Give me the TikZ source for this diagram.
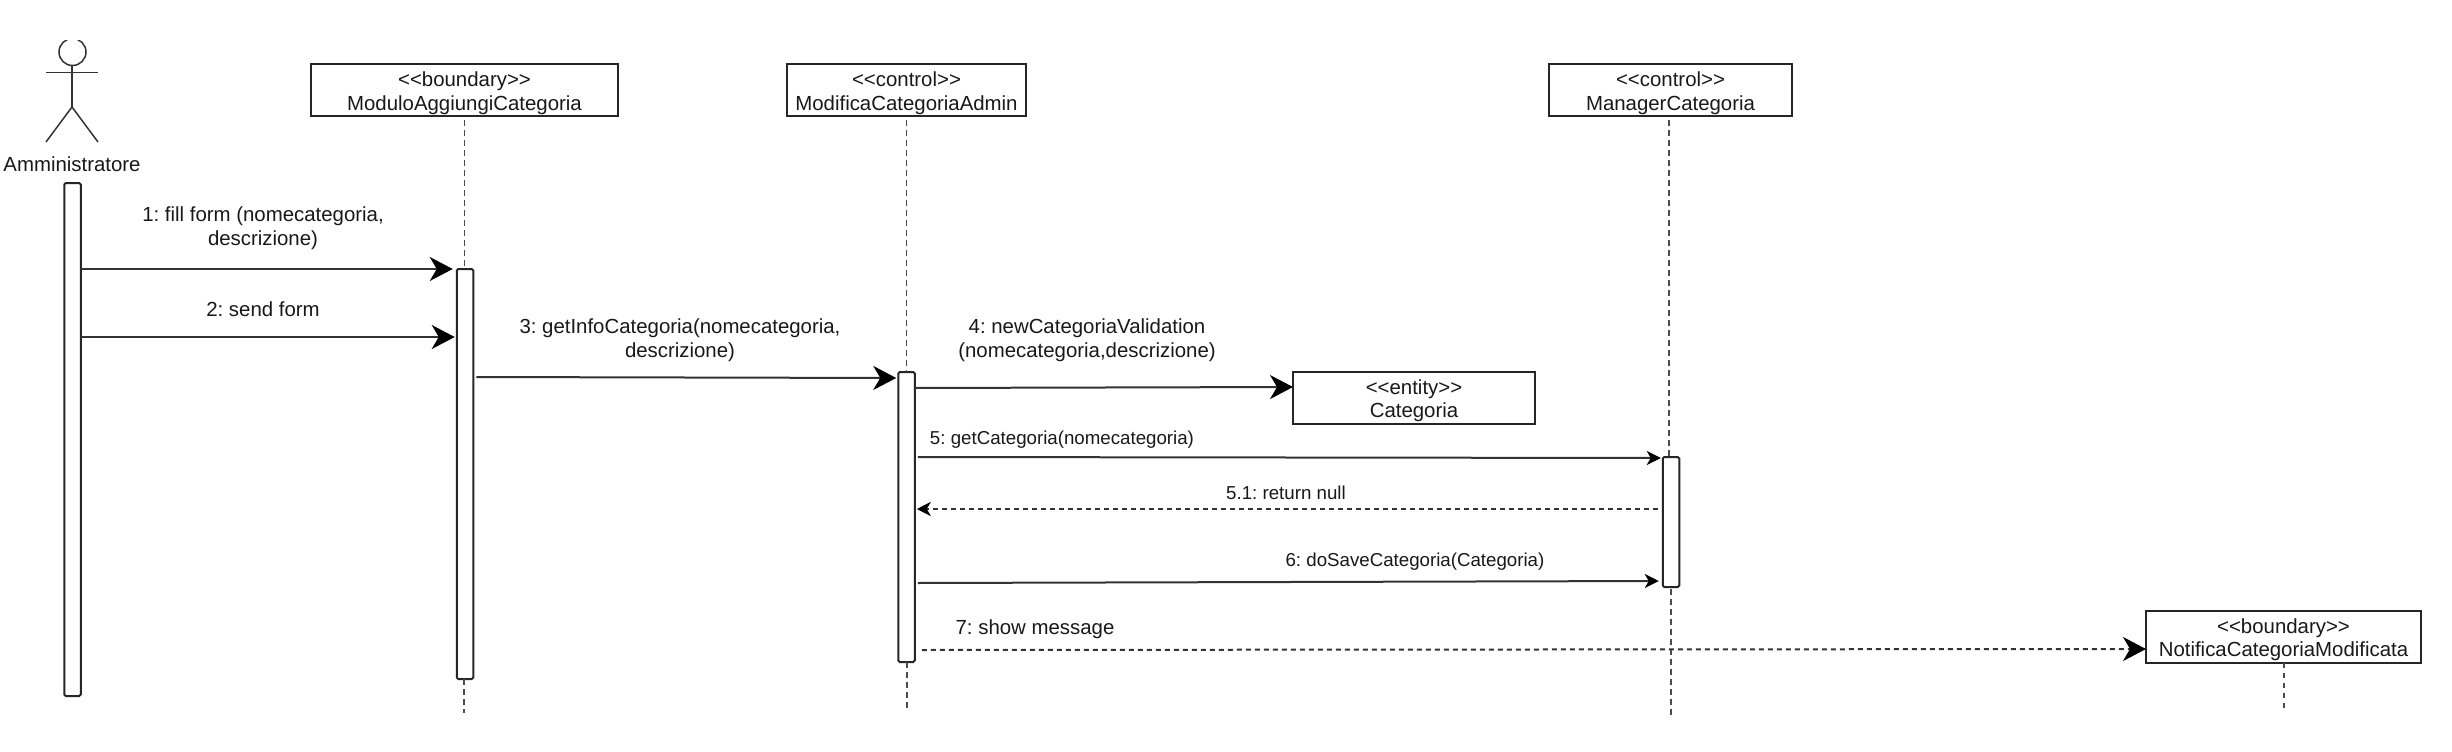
\documentclass[tikz,border=0pt]{standalone}
\usepackage{fontspec}
\setmainfont{Liberation Sans}
\usetikzlibrary{arrows.meta}
\AtBeginDocument{\frenchspacing}
\newcommand{\tallstrut}{\rule{0pt}{21pt}}
\tikzset{
  x=1pt,y=-1pt,
  every node/.style={inner sep=0pt,outer sep=0pt,text=black!90,font=\fontsize{20.4}{23.5}\selectfont,align=center},
  objbox/.style={draw=black!85,line width=2pt,fill=white,minimum height=52pt},
  actbox/.style={draw=black!85,line width=2pt,fill=white,minimum width=16.5pt,rounded corners=1.5pt},
  lifeline/.style={draw=black!70,line width=1.6pt,dash pattern=on 5.5pt off 4.5pt},
  bigtip/.style={-{Stealth[length=23pt,width=24pt,inset=7pt,color=black]}},
  smalltip/.style={-{Stealth[length=14pt,width=14pt,inset=4pt,color=black]}},
  msg/.style={draw=black!80,line width=2pt},
  retmsg/.style={draw=black!80,line width=2pt,dash pattern=on 5pt off 4pt},
  actorline/.style={draw=black!80,line width=1.5pt},
  smalllabel/.style={font=\fontsize{18.7}{22}\selectfont},
}
\begin{document}
\begin{tikzpicture}
\useasboundingbox (0,0) rectangle (2452,752);
\fill[white] (0,0) rectangle (2452,752);

% actor
\begin{scope}
\clip (30,41) rectangle (115,160);
\draw[actorline] (72.5,52) ellipse [x radius=13.5,y radius=13.5];
\end{scope}
\coordinate (neck) at (72,65);
\coordinate (hip) at (72,107);
\coordinate (armL) at (46,72.7);
\coordinate (armR) at (98,72.7);
\coordinate (legL) at (46,142);
\coordinate (legR) at (98,142);
\draw[actorline] (neck) -- (hip);
\draw[actorline] (armL) -- (armR);
\draw[actorline] (legL) -- (hip) -- (legR);
\node (lblA) at (72,164) {Amministratore};

% object boxes
\node[objbox,minimum width=307pt] (modulo) at (464.5,90) {\tallstrut<{}<boundary>{}>\\ModuloAggiungiCategoria};
\node[objbox,minimum width=239pt] (modifica) at (906.5,90) {\tallstrut<{}<control>{}>\\ModificaCategoriaAdmin};
\node[objbox,minimum width=243pt] (manager) at (1670.5,90) {\tallstrut<{}<control>{}>\\ManagerCategoria};
\node[objbox,minimum width=242pt] (categoria) at (1414,397.5) {\tallstrut<{}<entity>{}>\\Categoria};
\node[objbox,minimum width=275pt] (notifica) at (2283.5,636.5) {\tallstrut<{}<boundary>{}>\\NotificaCategoriaModificata};

% activations
\node[actbox,minimum height=513pt] (actA) at (72.5,439.5) {};
\node[actbox,minimum height=410pt] (actB) at (465,474) {};
\node[actbox,minimum height=290pt] (actC) at (906.5,517) {};
\node[actbox,minimum height=130pt] (actD) at (1671,522) {};

% lifeline ends
\coordinate (endB) at (464,713);
\coordinate (endC) at (907,712);
\coordinate (endD) at (1671,717);
\coordinate (endN) at (2284,708);

\draw[lifeline] ([yshift=-4pt]modulo.south) -- (actB.north -| modulo.south);
\draw[lifeline] (actB.south -| endB) -- (endB);
\draw[lifeline] ([yshift=-4pt]modifica.south) -- (actC.north -| modifica.south);
\draw[lifeline] (actC.south -| endC) -- (endC);
\draw[lifeline] ([xshift=-1.5pt,yshift=-4pt]manager.south) -- ([xshift=-2pt]actD.north);
\draw[lifeline] ([yshift=-2pt]actD.south -| endD) -- (endD);
\draw[lifeline] (notifica.south -| endN) -- (endN);

% messages
\draw[msg,bigtip] ([yshift=-86pt]actA.north east) -- ([xshift=-4pt,yshift=-86pt]actA.north east -| actB.north west);
\node (l1) at (263,228) {1: fill form (nomecategoria,\\descrizione)};
\draw[msg,bigtip] ([yshift=-154pt]actA.north east) -- ([xshift=-2pt,yshift=-154pt]actA.north east -| actB.north west);
\node (l2) at (263,309) {2: send form};
\draw[msg,bigtip] ([xshift=3pt,yshift=-108pt]actB.north east) -- ([xshift=-2pt,yshift=-6pt]actC.north west);
\node (l3) at (680,340) {3: getInfoCategoria(nomecategoria,\\descrizione)};
\draw[msg,bigtip] ([yshift=-16pt]actC.north east) -- ([yshift=10.5pt]categoria.west);
\node (l4) at (1087,340) {4: newCategoriaValidation\\(nomecategoria,descrizione)};
\draw[msg,smalltip] ([xshift=3pt,yshift=-85pt]actC.north east) -- ([xshift=-2pt,yshift=-1pt]actD.north west);
\node[smalllabel] (l5) at (1062,440) {5: getCategoria(nomecategoria)};
\draw[retmsg,smalltip] ([xshift=-5pt,yshift=-52pt]actD.north west) -- ([xshift=2pt,yshift=-137pt]actC.north east);
\node[smalllabel] (l51) at (1286,493) {5.1: return null};
\draw[msg,smalltip] ([xshift=3pt,yshift=-211pt]actC.north east) -- ([xshift=-4pt,yshift=-124pt]actD.north west);
\node[smalllabel] (l6) at (1415,562) {6: doSaveCategoria(Categoria)};
\draw[retmsg,bigtip] ([xshift=7pt,yshift=12pt]actC.south east) -- ([yshift=-12.5pt]notifica.west);
\node (l7) at (1035,629) {7: show message};
\end{tikzpicture}
\end{document}
